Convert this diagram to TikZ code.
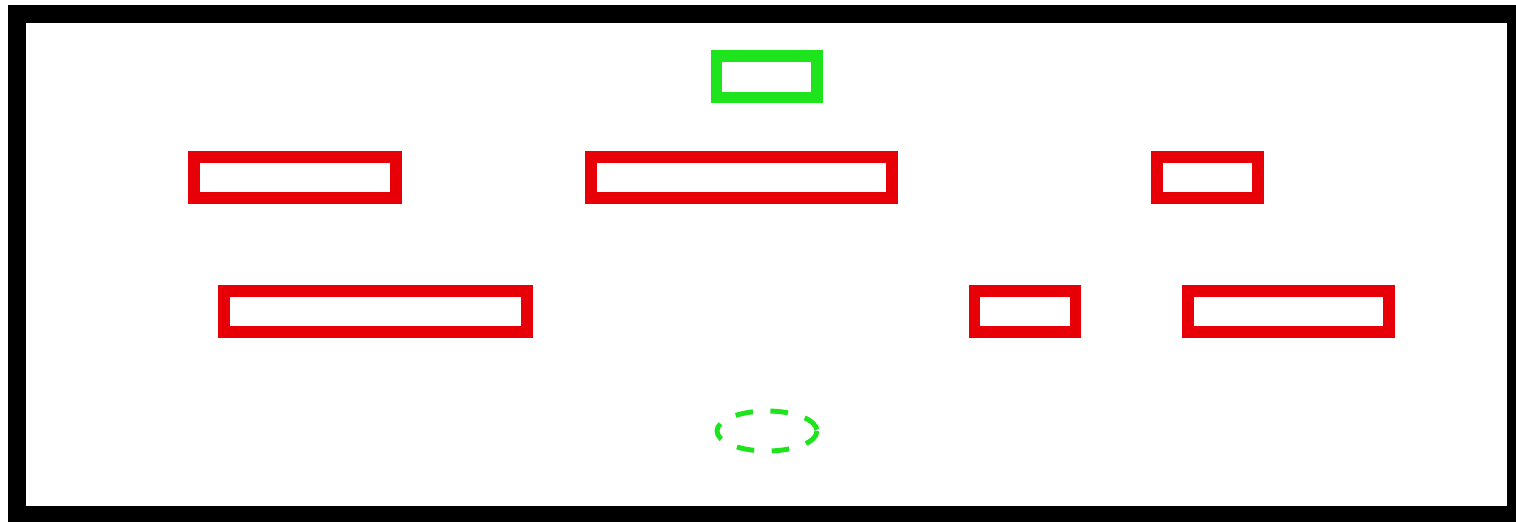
\documentclass[tikz,border=0pt]{standalone}
\usepackage{tikz}
\definecolor{boxred}{RGB}{232,0,8}
\definecolor{boxgreen}{RGB}{30,228,30}

\begin{document}
\begin{tikzpicture}[x=0.01cm, y=-0.01cm]
        \useasboundingbox (0,0) rectangle (1516,522);
        \fill[white] (0,0) rectangle (1516,522);

        %外枠
        \draw[line width = 5.1pt] (17,14) rectangle (1516,515);

        %緑の箱
        \draw[boxgreen, line width = 3.4pt] (716.5,56) rectangle (817,97.5);

        %赤い箱 (上の段)
        \draw[boxred, line width = 3.2pt] (194,157) rectangle (396,198);
        \draw[boxred, line width = 3.2pt] (591,157) rectangle (892,198);
        \draw[boxred, line width = 3.2pt] (1157,157) rectangle (1258,198);

        %赤い箱 (下の段)
        \draw[boxred, line width = 3.2pt] (224,291) rectangle (527,332);
        \draw[boxred, line width = 3.2pt] (974.5,291) rectangle (1075.5,332);
        \draw[boxred, line width = 3.2pt] (1188,291) rectangle (1389,332);

        %破線の楕円
        \draw[boxgreen, line width = 1.4pt, dash pattern=on 5pt off 5pt] (767,431) ellipse [x radius=50, y radius=20];
    \end{tikzpicture}
\end{document}
